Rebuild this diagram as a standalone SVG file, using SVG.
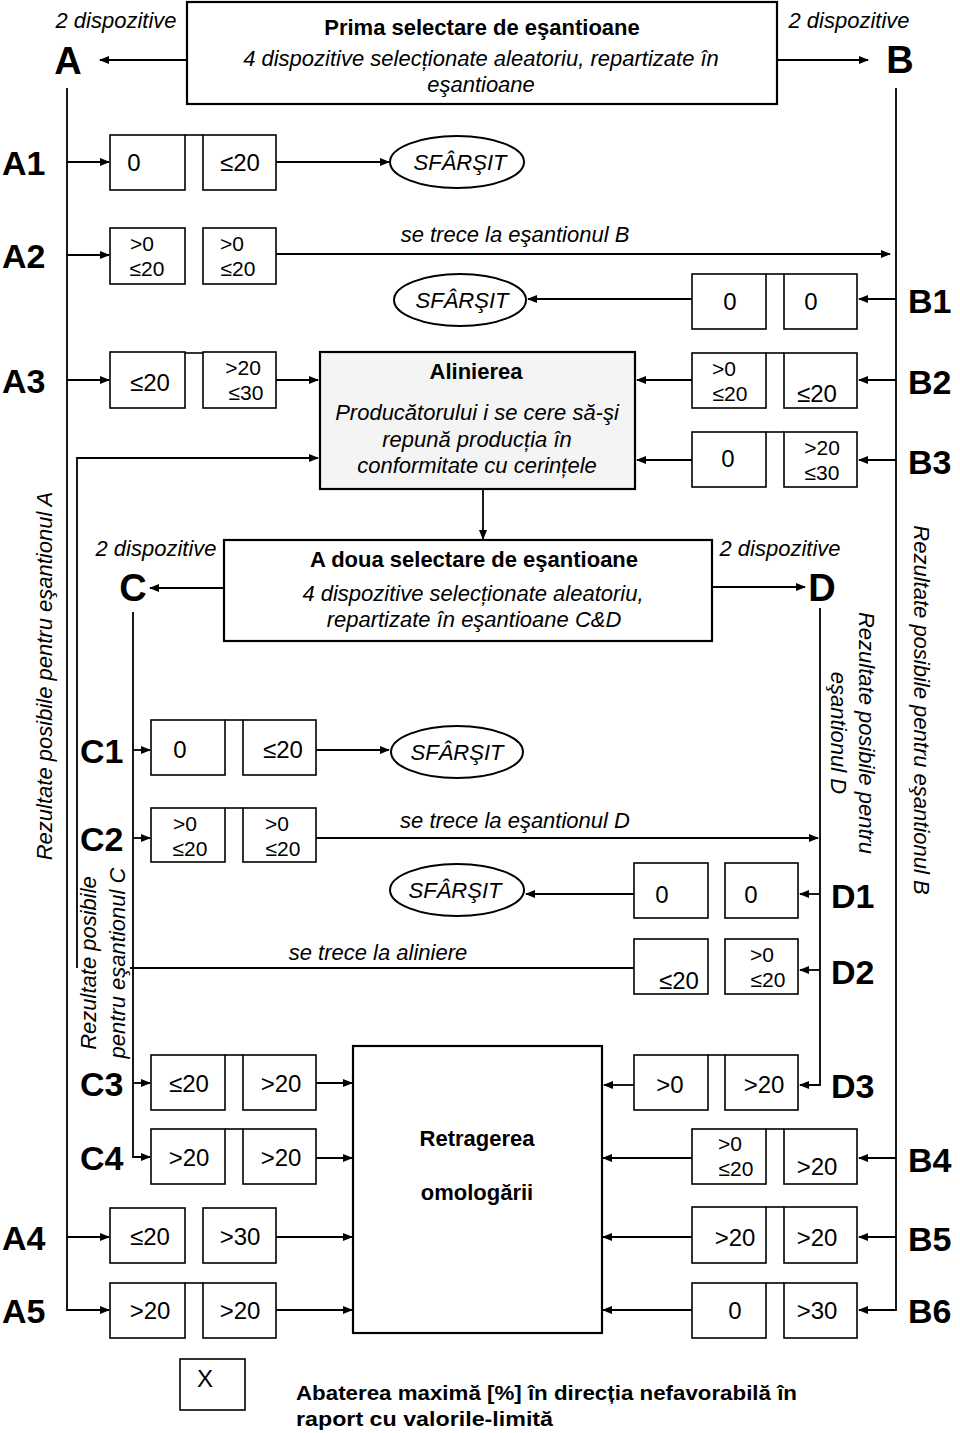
<svg xmlns="http://www.w3.org/2000/svg" width="960" height="1433" viewBox="0 0 960 1433">
<style>
text{font-family:"Liberation Sans",Arial,sans-serif;fill:#000}
.it{font-style:italic;font-size:22px}
.bt{font-weight:bold;font-size:22px}
.big{font-weight:bold;font-size:38px}
.lab{font-weight:bold;font-size:34px}
.num{font-size:24px}
.s{font-size:21px}
.box{fill:#fff;stroke:#000;stroke-width:1.6}
.main{fill:#fff;stroke:#000;stroke-width:2.2}
.ell{fill:#fff;stroke:#000;stroke-width:2}
.c{fill:none;stroke:#000;stroke-width:1.8}
.m{text-anchor:middle}
</style>
<defs>
<marker id="ah" markerUnits="userSpaceOnUse" markerWidth="10" markerHeight="8" refX="9" refY="4" orient="auto">
<path d="M0,0 L10,4 L0,8 z" fill="#000"/>
</marker>
</defs>
<rect width="960" height="1433" fill="#fff"/>

<g id="connectors" class="c">
<path d="M187 60 H100" marker-end="url(#ah)"/>
<path d="M777 60 H868" marker-end="url(#ah)"/>
<path d="M67 88 V1310 H109" marker-end="url(#ah)"/>
<path d="M67 162 H109" marker-end="url(#ah)"/>
<path d="M67 255 H109" marker-end="url(#ah)"/>
<path d="M67 380 H109" marker-end="url(#ah)"/>
<path d="M67 1237 H109" marker-end="url(#ah)"/>
<path d="M276 162 H389" marker-end="url(#ah)"/>
<path d="M276 254 H890" marker-end="url(#ah)"/>
<path d="M276 380 H318" marker-end="url(#ah)"/>
<path d="M276 1237 H352" marker-end="url(#ah)"/>
<path d="M276 1310 H352" marker-end="url(#ah)"/>
<path d="M896 88 V1310 H859" marker-end="url(#ah)"/>
<path d="M896 299 H859" marker-end="url(#ah)"/>
<path d="M896 380 H859" marker-end="url(#ah)"/>
<path d="M896 460 H859" marker-end="url(#ah)"/>
<path d="M896 1158 H859" marker-end="url(#ah)"/>
<path d="M896 1237 H859" marker-end="url(#ah)"/>
<path d="M692 299 H528" marker-end="url(#ah)"/>
<path d="M692 380 H637" marker-end="url(#ah)"/>
<path d="M692 460 H637" marker-end="url(#ah)"/>
<path d="M692 1158 H603" marker-end="url(#ah)"/>
<path d="M692 1237 H603" marker-end="url(#ah)"/>
<path d="M692 1310 H603" marker-end="url(#ah)"/>
<path d="M634 968 H130"/>
<path d="M77 968 V458 H318" marker-end="url(#ah)"/>
<path d="M483 490 V539" marker-end="url(#ah)"/>
<path d="M224 588 H150" marker-end="url(#ah)"/>
<path d="M712 587 H805" marker-end="url(#ah)"/>
<path d="M133 612 V1157 H150" marker-end="url(#ah)"/>
<path d="M133 750 H150" marker-end="url(#ah)"/>
<path d="M133 838 H150" marker-end="url(#ah)"/>
<path d="M133 1083 H150" marker-end="url(#ah)"/>
<path d="M316 750 H389" marker-end="url(#ah)"/>
<path d="M316 838 H818" marker-end="url(#ah)"/>
<path d="M316 1083 H352" marker-end="url(#ah)"/>
<path d="M316 1158 H352" marker-end="url(#ah)"/>
<path d="M820 608 V1085 H800" marker-end="url(#ah)"/>
<path d="M820 894 H800" marker-end="url(#ah)"/>
<path d="M820 970 H800" marker-end="url(#ah)"/>
<path d="M634 894 H526" marker-end="url(#ah)"/>
<path d="M634 1085 H604" marker-end="url(#ah)"/>
</g>

<g id="sel1">
<rect class="main" x="187" y="2" width="590" height="102"/>
<text class="bt m" x="482" y="35">Prima selectare de eşantioane</text>
<text class="it m" x="481" y="66">4 dispozitive selecționate aleatoriu, repartizate în</text>
<text class="it m" x="481" y="92">eşantioane</text>
</g>
<g id="A"><text class="it m" x="116" y="28">2 dispozitive</text><text class="big m" x="68" y="74">A</text></g>
<g id="B"><text class="it m" x="849" y="28">2 dispozitive</text><text class="big m" x="900" y="73">B</text></g>

<g id="A1">
<text class="lab" x="2" y="175">A1</text>
<rect class="box" x="110" y="135" width="75" height="55"/><rect class="box" x="203" y="135" width="73" height="55"/>
<line x1="185" y1="135" x2="203" y2="135" stroke="#000" stroke-width="1.6"/>
<text class="num m" x="134" y="171">0</text><text class="num m" x="240" y="171">≤20</text>
</g>
<g id="end1"><ellipse class="ell" cx="457" cy="162" rx="67" ry="26"/><text class="it m" x="460" y="170">SFÂRŞIT</text></g>

<g id="A2">
<text class="lab" x="2" y="268">A2</text>
<rect class="box" x="110" y="228" width="75" height="56"/><rect class="box" x="203" y="228" width="73" height="56"/>
<text class="s m" x="142" y="251">&gt;0</text><text class="s m" x="147" y="276">≤20</text>
<text class="s m" x="232" y="251">&gt;0</text><text class="s m" x="238" y="276">≤20</text>
</g>
<text class="it m" x="515" y="242">se trece la eşantionul B</text>

<g id="B1">
<text class="lab" x="908" y="313">B1</text>
<rect class="box" x="692" y="274" width="74" height="55"/><rect class="box" x="784" y="274" width="73" height="55"/>
<line x1="766" y1="274" x2="784" y2="274" stroke="#000" stroke-width="1.6"/>
<text class="num m" x="730" y="310">0</text><text class="num m" x="811" y="310">0</text>
</g>
<g id="end2"><ellipse class="ell" cx="460" cy="300" rx="66" ry="26"/><text class="it m" x="462" y="308">SFÂRŞIT</text></g>

<g id="A3">
<text class="lab" x="2" y="393">A3</text>
<rect class="box" x="110" y="352" width="75" height="56"/><rect class="box" x="203" y="352" width="73" height="56"/>
<line x1="185" y1="353" x2="203" y2="353" stroke="#000" stroke-width="1.6"/>
<text class="num m" x="150" y="391">≤20</text>
<text class="s m" x="243" y="375">&gt;20</text><text class="s m" x="246" y="400">≤30</text>
</g>

<g id="align">
<rect class="main" x="320" y="352" width="315" height="137" style="fill:#f4f4f4"/>
<text class="bt m" x="476" y="379">Alinierea</text>
<text class="it m" x="477" y="420">Producătorului i se cere să-şi</text>
<text class="it m" x="477" y="447">repună producția în</text>
<text class="it m" x="477" y="473">conformitate cu cerințele</text>
</g>

<g id="B2">
<text class="lab" x="908" y="394">B2</text>
<rect class="box" x="692" y="353" width="74" height="55"/><rect class="box" x="784" y="353" width="73" height="55"/>
<line x1="766" y1="353" x2="784" y2="353" stroke="#000" stroke-width="1.6"/>
<text class="s m" x="724" y="376">&gt;0</text><text class="s m" x="730" y="401">≤20</text>
<text class="num m" x="817" y="402">≤20</text>
</g>
<g id="B3">
<text class="lab" x="908" y="474">B3</text>
<rect class="box" x="692" y="432" width="74" height="55"/><rect class="box" x="784" y="432" width="73" height="55"/>
<line x1="766" y1="432" x2="784" y2="432" stroke="#000" stroke-width="1.6"/>
<text class="num m" x="728" y="467">0</text>
<text class="s m" x="822" y="455">&gt;20</text><text class="s m" x="822" y="480">≤30</text>
</g>

<g id="sel2">
<rect class="main" x="224" y="540" width="488" height="101"/>
<text class="bt m" x="474" y="567">A doua selectare de eşantioane</text>
<text class="it m" x="473" y="601">4 dispozitive selecționate aleatoriu,</text>
<text class="it m" x="474" y="627">repartizate în eşantioane C&amp;D</text>
</g>
<g id="C"><text class="it m" x="156" y="556">2 dispozitive</text><text class="big m" x="133" y="601">C</text></g>
<g id="D"><text class="it m" x="780" y="556">2 dispozitive</text><text class="big m" x="822" y="601">D</text></g>

<g id="notes">
<text class="it m" transform="translate(52,676) rotate(-90)">Rezultate posibile pentru eşantionul A</text>
<text class="it m" transform="translate(914,710) rotate(90)">Rezultate posibile pentru eşantionul B</text>
<text class="it m" transform="translate(859,733) rotate(90)">Rezultate posibile pentru</text>
<text class="it m" transform="translate(831,733) rotate(90)">eşantionul D</text>
<text class="it m" transform="translate(96,963) rotate(-90)">Rezultate posibile</text>
<text class="it m" transform="translate(125,963) rotate(-90)">pentru eşantionul C</text>
</g>

<g id="C1">
<text class="lab" x="80" y="763">C1</text>
<rect class="box" x="151" y="720" width="74" height="55"/><rect class="box" x="243" y="720" width="73" height="55"/>
<line x1="225" y1="720" x2="243" y2="720" stroke="#000" stroke-width="1.6"/>
<text class="num m" x="180" y="758">0</text><text class="num m" x="283" y="758">≤20</text>
</g>
<g id="end3"><ellipse class="ell" cx="457" cy="752" rx="66" ry="26"/><text class="it m" x="457" y="760">SFÂRŞIT</text></g>

<g id="C2">
<text class="lab" x="80" y="851">C2</text>
<rect class="box" x="151" y="808" width="74" height="54"/><rect class="box" x="243" y="808" width="73" height="54"/>
<line x1="225" y1="808" x2="243" y2="808" stroke="#000" stroke-width="1.6"/>
<text class="s m" x="185" y="831">&gt;0</text><text class="s m" x="190" y="856">≤20</text>
<text class="s m" x="277" y="831">&gt;0</text><text class="s m" x="283" y="856">≤20</text>
</g>
<text class="it m" x="515" y="828">se trece la eşantionul D</text>

<g id="D1">
<text class="lab" x="831" y="908">D1</text>
<rect class="box" x="634" y="863" width="74" height="55"/><rect class="box" x="725" y="863" width="73" height="55"/>
<text class="num m" x="662" y="903">0</text><text class="num m" x="751" y="903">0</text>
</g>
<g id="end4"><ellipse class="ell" cx="457" cy="890" rx="67" ry="26"/><text class="it m" x="455" y="898">SFÂRŞIT</text></g>

<g id="D2">
<text class="lab" x="831" y="984">D2</text>
<rect class="box" x="634" y="939" width="74" height="55"/><rect class="box" x="725" y="939" width="73" height="55"/>
<text class="num m" x="679" y="989">≤20</text>
<text class="s m" x="762" y="962">&gt;0</text><text class="s m" x="768" y="987">≤20</text>
</g>
<text class="it m" x="378" y="960">se trece la aliniere</text>

<g id="withdraw">
<rect class="main" x="353" y="1046" width="249" height="287"/>
<text class="bt m" x="477" y="1146">Retragerea</text>
<text class="bt m" x="477" y="1200">omologării</text>
</g>

<g id="C3">
<text class="lab" x="80" y="1096">C3</text>
<rect class="box" x="151" y="1055" width="74" height="55"/><rect class="box" x="243" y="1055" width="73" height="55"/>
<line x1="225" y1="1055" x2="243" y2="1055" stroke="#000" stroke-width="1.6"/>
<text class="num m" x="189" y="1092">≤20</text><text class="num m" x="281" y="1092">&gt;20</text>
</g>
<g id="D3">
<text class="lab" x="831" y="1098">D3</text>
<rect class="box" x="634" y="1055" width="74" height="55"/><rect class="box" x="725" y="1055" width="73" height="55"/>
<line x1="708" y1="1055" x2="725" y2="1055" stroke="#000" stroke-width="1.6"/>
<text class="num m" x="670" y="1093">&gt;0</text><text class="num m" x="764" y="1093">&gt;20</text>
</g>
<g id="C4">
<text class="lab" x="80" y="1170">C4</text>
<rect class="box" x="151" y="1129" width="74" height="55"/><rect class="box" x="243" y="1129" width="73" height="55"/>
<line x1="225" y1="1129" x2="243" y2="1129" stroke="#000" stroke-width="1.6"/>
<text class="num m" x="189" y="1166">&gt;20</text><text class="num m" x="281" y="1166">&gt;20</text>
</g>
<g id="B4">
<text class="lab" x="908" y="1172">B4</text>
<rect class="box" x="692" y="1129" width="74" height="55"/><rect class="box" x="784" y="1129" width="73" height="55"/>
<line x1="766" y1="1129" x2="784" y2="1129" stroke="#000" stroke-width="1.6"/>
<text class="s m" x="730" y="1151">&gt;0</text><text class="s m" x="736" y="1176">≤20</text>
<text class="num m" x="817" y="1175">&gt;20</text>
</g>
<g id="A4">
<text class="lab" x="2" y="1250">A4</text>
<rect class="box" x="110" y="1208" width="75" height="55"/><rect class="box" x="203" y="1208" width="73" height="55"/>
<text class="num m" x="150" y="1245">≤20</text><text class="num m" x="240" y="1245">&gt;30</text>
</g>
<g id="B5">
<text class="lab" x="908" y="1251">B5</text>
<rect class="box" x="692" y="1207" width="74" height="56"/><rect class="box" x="784" y="1207" width="73" height="56"/>
<line x1="766" y1="1207" x2="784" y2="1207" stroke="#000" stroke-width="1.6"/>
<text class="num m" x="735" y="1246">&gt;20</text><text class="num m" x="817" y="1246">&gt;20</text>
</g>
<g id="A5">
<text class="lab" x="2" y="1323">A5</text>
<rect class="box" x="110" y="1283" width="75" height="55"/><rect class="box" x="203" y="1283" width="73" height="55"/>
<line x1="185" y1="1283" x2="203" y2="1283" stroke="#000" stroke-width="1.6"/>
<text class="num m" x="150" y="1319">&gt;20</text><text class="num m" x="240" y="1319">&gt;20</text>
</g>
<g id="B6">
<text class="lab" x="908" y="1323">B6</text>
<rect class="box" x="692" y="1283" width="74" height="55"/><rect class="box" x="784" y="1283" width="73" height="55"/>
<line x1="766" y1="1283" x2="784" y2="1283" stroke="#000" stroke-width="1.6"/>
<text class="num m" x="735" y="1319">0</text><text class="num m" x="817" y="1319">&gt;30</text>
</g>

<g id="legend">
<rect class="box" x="180" y="1359" width="65" height="51"/>
<text class="num m" x="205" y="1387">X</text>
<text class="bt" x="296" y="1400" textLength="501" lengthAdjust="spacingAndGlyphs" style="font-size:21px">Abaterea maximă [%] în direcția nefavorabilă în</text>
<text class="bt" x="296" y="1426" textLength="257" lengthAdjust="spacingAndGlyphs" style="font-size:21px">raport cu valorile-limită</text>
</g>
</svg>
